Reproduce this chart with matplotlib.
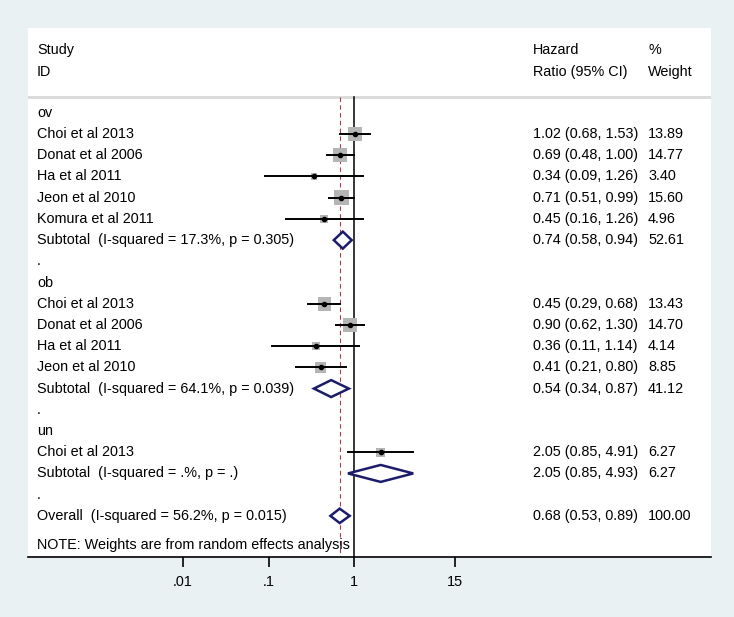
import numpy as np
import matplotlib.pyplot as plt
from matplotlib.patches import Polygon
from matplotlib.transforms import blended_transform_factory

plt.rcParams['font.family'] = ['Liberation Sans', 'DejaVu Sans']

# ===============================
# Data
# ===============================
labels = ["ov", "Choi et al 2013", "Donat et al 2006", "Ha et al 2011", "Jeon et al 2010",
          "Komura et al 2011", "Subtotal  (I-squared = 17.3%, p = 0.305)", ".",
          "ob", "Choi et al 2013", "Donat et al 2006", "Ha et al 2011", "Jeon et al 2010",
          "Subtotal  (I-squared = 64.1%, p = 0.039)", ".",
          "un", "Choi et al 2013", "Subtotal  (I-squared = .%, p = .)", ".",
          "Overall  (I-squared = 56.2%, p = 0.015)"]
kinds = ["head", "study", "study", "study", "study", "study", "sub", "blank",
         "head", "study", "study", "study", "study", "sub", "blank",
         "head", "study", "sub", "blank", "sub"]
hr = [None, 1.02, 0.69, 0.34, 0.71, 0.45, 0.74, None,
      None, 0.45, 0.90, 0.36, 0.41, 0.54, None,
      None, 2.05, 2.05, None, 0.68]
lo = [None, 0.68, 0.48, 0.09, 0.51, 0.16, 0.58, None,
      None, 0.29, 0.62, 0.11, 0.21, 0.34, None,
      None, 0.85, 0.85, None, 0.53]
hi = [None, 1.53, 1.00, 1.26, 0.99, 1.26, 0.94, None,
      None, 0.68, 1.30, 1.14, 0.80, 0.87, None,
      None, 4.91, 4.93, None, 0.89]
weights = [None, 13.89, 14.77, 3.40, 15.60, 4.96, 52.61, None,
           None, 13.43, 14.70, 4.14, 8.85, 41.12, None,
           None, 6.27, 6.27, None, 100.00]
overall_hr = 0.68
ticks = [0.01, 0.1, 1, 15]
tick_labels = [".01", ".1", "1", "15"]

BG = "#e9f1f3"
NAVY = "#1c1c6b"

# ===============================
# Figure
# ===============================
fig = plt.figure(figsize=(7.34, 6.17), dpi=100)
fig.patch.set_facecolor(BG)
ax = fig.add_axes([28 / 734, 60 / 617, 683 / 734, 529 / 617])
ax.set_facecolor("white")
ax.set_xscale("log")
ax.set_xlim(10 ** (-326 / 85.5), 10 ** (357 / 85.5))
ax.set_ylim(20.94, -4.0)

for s in ["top", "left", "right"]:
    ax.spines[s].set_visible(False)
ax.spines["bottom"].set_linewidth(1.2)
ax.set_yticks([])
ax.set_xticks(ticks)
ax.set_xticklabels(tick_labels)
ax.xaxis.set_minor_locator(plt.NullLocator())
ax.tick_params(axis="x", length=7, width=1.2, labelsize=10.4, pad=6)

trans = blended_transform_factory(ax.transAxes, ax.transData)
fs = 10.4

# header
ax.text(0.0132, -2.96, "Study", transform=trans, fontsize=fs, va="center")
ax.text(0.0132, -1.93, "ID", transform=trans, fontsize=fs, va="center")
ax.text(0.7394, -2.96, "Hazard", transform=trans, fontsize=fs, va="center")
ax.text(0.7394, -1.93, "Ratio (95% CI)", transform=trans, fontsize=fs, va="center")
ax.text(0.9078, -2.96, "%", transform=trans, fontsize=fs, va="center")
ax.text(0.9078, -1.93, "Weight", transform=trans, fontsize=fs, va="center")
ax.axhline(-0.75, color="#d9d9d9", linewidth=2)

# reference lines
ax.plot([1, 1], [-0.75, 20.94], color="black", linewidth=1.1, zorder=2)
ax.plot([overall_hr, overall_hr], [-0.75, 20.94], color="#a83a46",
        linewidth=0.8, dashes=(4, 3), zorder=2)

for i, lab in enumerate(labels):
    ax.text(0.0132, i, lab, transform=trans, fontsize=fs, va="center")
    if hr[i] is None:
        continue
    ax.text(0.7394, i, f"{hr[i]:.2f} ({lo[i]:.2f}, {hi[i]:.2f})",
            transform=trans, fontsize=fs, va="center")
    ax.text(0.9078, i, f"{weights[i]:.2f}", transform=trans, fontsize=fs, va="center")
    if kinds[i] == "study":
        side = 3.7 * np.sqrt(weights[i]) * 0.72  # points
        ax.scatter([hr[i]], [i], marker="s", s=side ** 2, color="#b5b5b5",
                   edgecolors="none", zorder=3)
        ax.plot([lo[i], hi[i]], [i, i], color="black", linewidth=1.4, zorder=4)
        ax.plot([hr[i]], [i], marker="o", markersize=3.0, color="black", zorder=5)
    else:
        h = 0.40 if i != len(labels) - 1 else 0.34
        diamond = Polygon([(lo[i], i), (hr[i], i - h), (hi[i], i), (hr[i], i + h)],
                          closed=True, facecolor="white", edgecolor=NAVY,
                          linewidth=1.8, zorder=4)
        ax.add_patch(diamond)

ax.text(0.0132, 20.38, "NOTE: Weights are from random effects analysis",
        transform=trans, fontsize=fs, va="center")

fig.savefig("out.png", dpi=100, facecolor=BG)
